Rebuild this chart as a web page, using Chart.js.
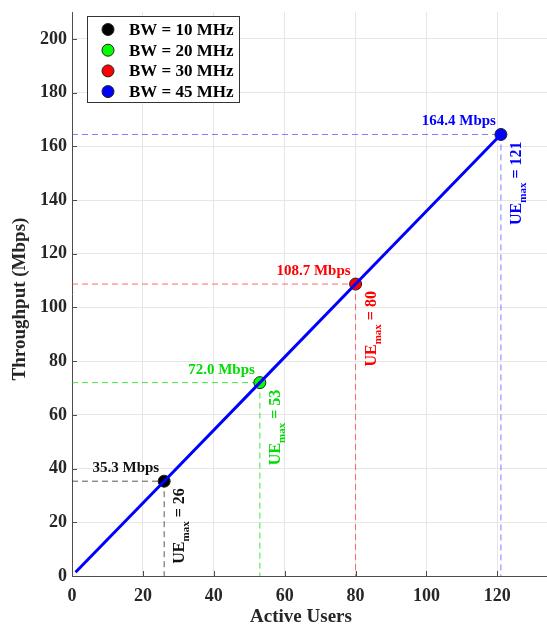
<!DOCTYPE html>
<html>
<head>
<meta charset="utf-8">
<script src="https://cdn.jsdelivr.net/npm/chart.js@4/dist/chart.umd.min.js"></script>
<style>
  html, body { margin: 0; padding: 0; background: #fff; }
  #wrap { width: 547px; height: 625px; position: relative; }
</style>
</head>
<body>
<div id="wrap"><canvas id="c" width="547" height="625"></canvas></div>
<script>
// ---- data ----
const bwLabels = ['BW = 10 MHz', 'BW = 20 MHz', 'BW = 30 MHz', 'BW = 45 MHz'];
const ueMax = [26, 53, 80, 121];
const throughputMax = [35.3, 72.0, 108.7, 164.4];
const lineUsers = [1, 26, 53, 80, 121];
const lineThroughput = [1.4, 35.3, 72.0, 108.7, 164.4];
const markerColors = ['#000000', '#00ff00', '#ff0000', '#0000ff'];
const textColors = ['#111111', '#00dd00', '#ff0000', '#0000ff'];
const dashColors = ['rgba(60,60,60,0.85)', 'rgba(0,220,0,0.75)', 'rgba(255,60,60,0.75)', 'rgba(80,80,255,0.75)'];
const xTitle = 'Active Users';
const yTitle = 'Throughput (Mbps)';

const FONT = '"Liberation Serif", "Times New Roman", serif';

const annot = {
  id: 'annot',
  beforeDatasetsDraw(chart) {
    const ctx = chart.ctx, xs = chart.scales.x, ys = chart.scales.y;
    ctx.save();
    ctx.lineWidth = 1;
    ctx.setLineDash([6, 4]);
    for (let i = 0; i < ueMax.length; i++) {
      const px = xs.getPixelForValue(ueMax[i]);
      const py = ys.getPixelForValue(throughputMax[i]);
      ctx.strokeStyle = dashColors[i];
      ctx.beginPath();
      ctx.moveTo(xs.getPixelForValue(0), py);
      ctx.lineTo(px, py);
      ctx.moveTo(px, py);
      ctx.lineTo(px, ys.getPixelForValue(0));
      ctx.stroke();
    }
    ctx.restore();
  },
  afterDatasetsDraw(chart) {
    const ctx = chart.ctx, xs = chart.scales.x, ys = chart.scales.y;
    const area = chart.chartArea;
    ctx.save();
    // inward tick marks
    ctx.strokeStyle = '#4d4d4d';
    ctx.lineWidth = 1;
    ctx.beginPath();
    xs.ticks.forEach(t => {
      const p = Math.round(xs.getPixelForValue(t.value)) + 0.5;
      ctx.moveTo(p, area.bottom); ctx.lineTo(p, area.bottom - 5);
    });
    ys.ticks.forEach(t => {
      const p = Math.round(ys.getPixelForValue(t.value)) + 0.5;
      ctx.moveTo(area.left, p); ctx.lineTo(area.left + 5, p);
    });
    ctx.stroke();

    // value labels
    for (let i = 0; i < ueMax.length; i++) {
      const px = xs.getPixelForValue(ueMax[i]);
      const py = ys.getPixelForValue(throughputMax[i]);
      ctx.fillStyle = textColors[i];
      ctx.font = 'bold 15px ' + FONT;
      ctx.textAlign = 'right';
      ctx.textBaseline = 'alphabetic';
      ctx.fillText(throughputMax[i].toFixed(1) + ' Mbps', px - 5, py - 9);

      // rotated UE_max label
      const big = 'bold 16px ' + FONT;
      const small = 'bold 11px ' + FONT;
      ctx.font = big; const w1 = ctx.measureText('UE').width;
      ctx.font = small; const w2 = ctx.measureText('max').width;
      ctx.font = big; const w3 = ctx.measureText(' = ' + ueMax[i]).width;
      const total = w1 + w2 + w3;
      ctx.save();
      ctx.translate(px + 20, py + 7 + total);
      ctx.rotate(-Math.PI / 2);
      ctx.textAlign = 'left';
      ctx.font = big; ctx.fillText('UE', 0, 0);
      ctx.font = small; ctx.fillText('max', w1, 5);
      ctx.font = big; ctx.fillText(' = ' + ueMax[i], w1 + w2, 0);
      ctx.restore();
    }

    // legend
    const lx = 87.5, ly = 16.5, lw = 152, lh = 86;
    ctx.fillStyle = '#ffffff';
    ctx.fillRect(lx, ly, lw, lh);
    ctx.strokeStyle = '#333333';
    ctx.lineWidth = 1;
    ctx.strokeRect(lx, ly, lw, lh);
    for (let i = 0; i < bwLabels.length; i++) {
      const cy = 29.5 + i * 20.7;
      ctx.beginPath();
      ctx.arc(108, cy, 6, 0, Math.PI * 2);
      ctx.fillStyle = markerColors[i];
      ctx.fill();
      ctx.strokeStyle = '#222';
      ctx.stroke();
      ctx.fillStyle = '#000';
      ctx.font = 'bold 17px ' + FONT;
      ctx.textAlign = 'left';
      ctx.textBaseline = 'middle';
      ctx.fillText(bwLabels[i], 129, cy + 1);
    }

    // axis titles
    ctx.fillStyle = '#262626';
    ctx.font = 'bold 19px ' + FONT;
    ctx.textAlign = 'center';
    ctx.textBaseline = 'middle';
    ctx.fillText(xTitle, 301, 617);
    ctx.save();
    ctx.translate(20, 299);
    ctx.rotate(-Math.PI / 2);
    ctx.fillText(yTitle, 0, 0);
    ctx.restore();
    ctx.restore();
  }
};

const scatterSets = bwLabels.map((lab, i) => ({
  type: 'scatter',
  label: lab,
  data: [{ x: ueMax[i], y: throughputMax[i] }],
  backgroundColor: markerColors[i],
  borderColor: '#222',
  borderWidth: 1,
  pointRadius: 6,
  order: 2
}));

new Chart(document.getElementById('c'), {
  type: 'line',
  data: {
    datasets: [
      {
        label: 'Throughput',
        data: lineUsers.map((u, i) => ({ x: u, y: lineThroughput[i] })),
        borderColor: '#0000ff',
        borderWidth: 3,
        pointRadius: 0,
        fill: false,
        tension: 0,
        order: 0
      },
      ...scatterSets
    ]
  },
  options: {
    responsive: false,
    animation: false,
    events: [],
    layout: { autoPadding: false, padding: { top: 12, left: 0, right: 0, bottom: 0 } },
    plugins: { legend: { display: false }, tooltip: { enabled: false } },
    scales: {
      x: {
        type: 'linear',
        min: 0, max: 134,
        afterFit(s) { s.height = 49; s.paddingLeft = 0; s.paddingRight = 0; },
        ticks: {
          stepSize: 20, includeBounds: false, padding: 10,
          color: '#262626', font: { family: FONT, size: 18, weight: 'bold' }
        },
        grid: { color: '#e6e6e6', drawTicks: false },
        border: { color: '#4d4d4d', width: 1 }
      },
      y: {
        type: 'linear',
        min: 0, max: 210,
        afterFit(s) { s.width = 72; s.paddingTop = 0; s.paddingBottom = 0; },
        ticks: {
          stepSize: 20, includeBounds: false, padding: 5,
          color: '#262626', font: { family: FONT, size: 18, weight: 'bold' }
        },
        grid: { color: '#e6e6e6', drawTicks: false },
        border: { color: '#4d4d4d', width: 1 }
      }
    }
  },
  plugins: [annot]
});
</script>
</body>
</html>
